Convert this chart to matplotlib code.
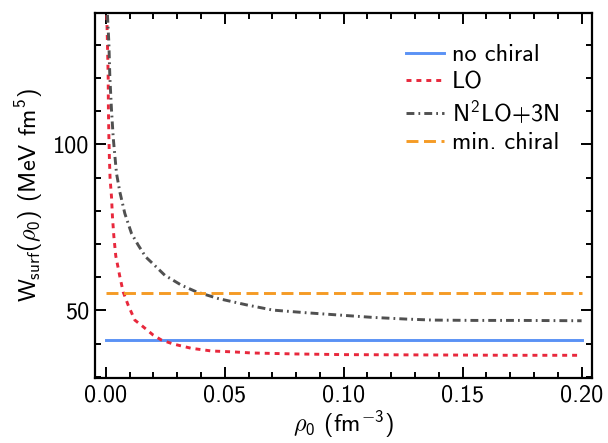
import matplotlib
matplotlib.use("Agg")
import matplotlib.pyplot as plt
from matplotlib.ticker import MultipleLocator, FormatStrFormatter

plt.rcParams['font.family'] = ['cmss10', 'DejaVu Sans']
plt.rcParams['axes.unicode_minus'] = False
plt.rcParams['mathtext.fontset'] = 'custom'
plt.rcParams['mathtext.rm'] = 'cmss10'
plt.rcParams['mathtext.it'] = 'cmss10'
plt.rcParams['mathtext.sf'] = 'cmss10'
plt.rcParams['mathtext.fallback'] = 'cm'

# Data
rho_const = [0.0, 0.2]
no_chiral = [41.05, 41.05]
min_chiral = [55.3, 55.3]

rho_lo = [0.0004, 0.0007, 0.0010, 0.0011, 0.0013, 0.0015, 0.0018, 0.0024, 0.0028,
          0.0034, 0.0042, 0.0052, 0.0059, 0.0073, 0.0094, 0.0122, 0.0157, 0.0199,
          0.0234, 0.0283, 0.0360, 0.0444, 0.0542, 0.0613, 0.0800, 0.1000, 0.1375,
          0.1700, 0.2000]
w_lo = [138.9, 130.4, 120.4, 110.3, 102.3, 96.3, 89.8, 84.2, 78.2,
        72.2, 66.4, 62.8, 60.2, 55.6, 51.6, 47.1, 45.1, 42.6,
        41.1, 39.9, 38.6, 37.8, 37.5, 37.2, 36.9, 36.7, 36.6,
        36.5, 36.5]

rho_n2lo = [0.0007, 0.0013, 0.0017, 0.0024, 0.0031, 0.0034, 0.0045, 0.0059, 0.0080,
            0.0108, 0.0136, 0.0168, 0.0199, 0.0248, 0.0318, 0.0381, 0.0472, 0.0590,
            0.0703, 0.0844, 0.0984, 0.1124, 0.1264, 0.1376, 0.1550, 0.1740, 0.2000]
w_n2lo = [139.0, 130.4, 120.4, 110.3, 102.3, 99.8, 91.3, 85.7, 79.2,
          73.2, 69.7, 66.1, 64.0, 60.6, 57.6, 55.6, 53.6, 51.7,
          50.1, 49.3, 48.6, 47.9, 47.4, 47.1, 47.0, 47.0, 46.9]

labels = ["no chiral", "LO", r"N$^2$LO$+$3N", "min. chiral"]
colors = ["#5a92f5", "#e8283c", "#505050", "#f59b25"]

fig = plt.figure(figsize=(6.08, 4.43), dpi=100)
ax = fig.add_axes([0.156, 0.147, 0.817, 0.824])

lw = 2.1
ax.plot(rho_const, no_chiral, color=colors[0], lw=lw, ls='-', label=labels[0])
ax.plot(rho_lo, w_lo, color=colors[1], lw=lw, ls=(0, (1.7, 1.7)), label=labels[1])
ax.plot(rho_n2lo, w_n2lo, color=colors[2], lw=lw, ls=(0, (2.7, 1.4, 0.6, 1.4)), label=labels[2])
ax.plot(rho_const, min_chiral, color=colors[3], lw=lw, ls=(0, (4.1, 1.9)), label=labels[3])

ax.set_xlim(-0.0046, 0.2042)
ax.set_ylim(29.7, 139.6)
ax.xaxis.set_major_locator(MultipleLocator(0.05))
ax.xaxis.set_minor_locator(MultipleLocator(0.01))
ax.yaxis.set_major_locator(MultipleLocator(50))
ax.yaxis.set_minor_locator(MultipleLocator(10))
ax.xaxis.set_major_formatter(FormatStrFormatter('%.2f'))

fs = 17.5
ax.tick_params(which='both', direction='in', top=True, right=True, labelsize=fs, width=1.4)
ax.tick_params(which='major', length=8)
ax.tick_params(which='minor', length=4.5)
ax.tick_params(axis='x', which='major', pad=5)
ax.tick_params(axis='y', which='major', pad=4)
for s in ax.spines.values():
    s.set_linewidth(1.6)

ax.set_xlabel(r"$\rho_0$ (fm$^{-3}$)", fontsize=fs, labelpad=1)
ax.set_ylabel(r"$W_{\mathrm{surf}}(\rho_0)$ (MeV fm$^5$)", fontsize=fs, labelpad=5)

ax.legend(loc='upper right', frameon=False, fontsize=fs, handlelength=1.55,
          labelspacing=0.22, borderaxespad=0.0, handletextpad=0.35,
          bbox_to_anchor=(0.955, 0.94))

fig.savefig("out.png", dpi=100)
